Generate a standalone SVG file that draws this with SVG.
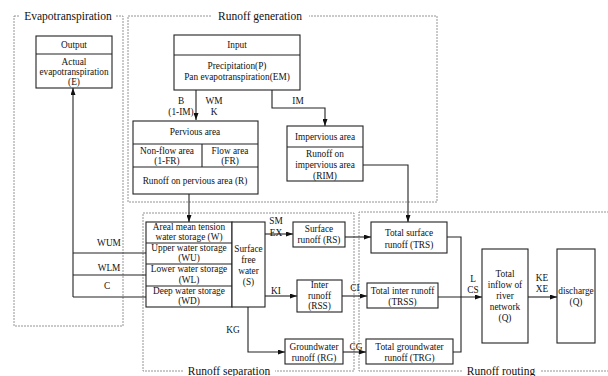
<svg xmlns="http://www.w3.org/2000/svg" width="608" height="376" viewBox="0 0 608 376">
<style>
text{font-family:"Liberation Serif","Times New Roman",serif;font-size:9.3px;fill:#111;text-anchor:middle}
.t{font-size:11.5px}
.b{fill:#fff;stroke:#222;stroke-width:1.1}
.d{fill:none;stroke:#888;stroke-width:0.9;stroke-dasharray:2,1}
.c{fill:none;stroke:#222;stroke-width:1.1}
</style>
<defs>
<marker id="a" viewBox="0 0 7 5" refX="7" refY="2.5" markerWidth="7" markerHeight="5" markerUnits="userSpaceOnUse" orient="auto">
<path d="M0,0L7,2.5L0,5z" fill="#111"/>
</marker>
</defs>
<rect width="608" height="376" fill="#fff"/>
<g id="frames">
<rect class="d" x="14" y="16" width="109" height="310"/>
<rect x="20" y="9" width="96" height="14" fill="#fff"/>
<text class="t" x="68" y="20">Evapotranspiration</text>
<rect class="d" x="128" y="16" width="309" height="186"/>
<rect x="212" y="9" width="97" height="14" fill="#fff"/>
<text class="t" x="260" y="20">Runoff generation</text>
<rect class="d" x="143" y="213" width="211" height="158"/>
<rect x="183" y="364" width="92" height="12" fill="#fff"/>
<text class="t" x="229" y="375">Runoff separation</text>
<path class="d" d="M612,212H359V371H612"/>
<rect x="462" y="364" width="78" height="12" fill="#fff"/>
<text class="t" x="501" y="375">Runoff routing</text>
</g>
<g id="connectors">
<path class="c" d="M196,90V120" marker-end="url(#a)"/>
<path class="c" d="M272,90V108H325V126" marker-end="url(#a)"/>
<path class="c" d="M189,194V222" marker-end="url(#a)"/>
<path class="c" d="M363,165H408V222" marker-end="url(#a)"/>
<path class="c" d="M73,297V88" marker-end="url(#a)"/>
<path class="c" d="M73,253H146M73,275H146M73,297H146"/>
<path class="c" d="M265,234H293" marker-end="url(#a)"/>
<path class="c" d="M265,296H297" marker-end="url(#a)"/>
<path class="c" d="M248,307V352H285" marker-end="url(#a)"/>
<path class="c" d="M345,237H371" marker-end="url(#a)"/>
<path class="c" d="M342,296H367" marker-end="url(#a)"/>
<path class="c" d="M343,352H366" marker-end="url(#a)"/>
<path class="c" d="M447,237H461V352H453"/>
<path class="c" d="M438,297H482" marker-end="url(#a)"/>
<path class="c" d="M528,297H557" marker-end="url(#a)"/>
<text x="181" y="104">B</text>
<text x="181" y="115">(1-IM)</text>
<text x="214" y="104">WM</text>
<text x="214" y="115">K</text>
<text x="298" y="104">IM</text>
<text x="109" y="246">WUM</text>
<text x="109" y="271">WLM</text>
<text x="107" y="289">C</text>
<text x="276" y="224">SM</text>
<text x="276" y="236">EX</text>
<text x="276" y="294">KI</text>
<text x="233" y="333">KG</text>
<text x="355" y="291">CI</text>
<text x="356" y="350">CG</text>
<text x="473" y="282">L</text>
<text x="473" y="293">CS</text>
<text x="542" y="281">KE</text>
<text x="542" y="292">XE</text>
</g>
<g id="output">
<rect class="b" x="36" y="36" width="76" height="52"/>
<path class="c" d="M36,54H112"/>
<text x="74" y="48">Output</text>
<text x="74" y="65">Actual</text>
<text x="74" y="75">evapotranspiration</text>
<text x="74" y="85">(E)</text>
</g>
<g id="input">
<rect class="b" x="174" y="35" width="126" height="55"/>
<path class="c" d="M174,55H300"/>
<text x="237" y="48">Input</text>
<text x="237" y="69">Precipitation(P)</text>
<text x="237" y="80">Pan evapotranspiration(EM)</text>
</g>
<g id="pervious">
<rect class="b" x="133" y="121" width="125" height="73"/>
<path class="c" d="M133,144H258M133,167H258M202,144V167"/>
<text x="195" y="135">Pervious area</text>
<text x="167" y="154">Non-flow area</text>
<text x="167" y="164">(1-FR)</text>
<text x="230" y="154">Flow area</text>
<text x="230" y="164">(FR)</text>
<text x="195" y="184">Runoff on pervious area (R)</text>
</g>
<g id="impervious">
<rect class="b" x="287" y="126" width="76" height="55"/>
<path class="c" d="M287,147H363"/>
<text x="325" y="140">Impervious area</text>
<text x="325" y="157">Runoff on</text>
<text x="325" y="168">impervious area</text>
<text x="325" y="179">(RIM)</text>
</g>
<g id="storage">
<rect class="b" x="146" y="222" width="86" height="85"/>
<path class="c" d="M146,243H232M146,264H232M146,286H232"/>
<text x="189" y="230">Areal mean tension</text>
<text x="189" y="240">water storage (W)</text>
<text x="189" y="251">Upper water storage</text>
<text x="189" y="261">(WU)</text>
<text x="189" y="272">Lower water storage</text>
<text x="189" y="283">(WL)</text>
<text x="189" y="294">Deep water storage</text>
<text x="189" y="304">(WD)</text>
</g>
<g id="free-water">
<rect class="b" x="232" y="222" width="33" height="85"/>
<text x="248.5" y="252">Surface</text>
<text x="248.5" y="263">free</text>
<text x="248.5" y="274">water</text>
<text x="248.5" y="285">(S)</text>
</g>
<g id="rs">
<rect class="b" x="293" y="222" width="52" height="25"/>
<text x="319" y="232">Surface</text>
<text x="319" y="243">runoff (RS)</text>
</g>
<g id="rss">
<rect class="b" x="297" y="280" width="45" height="32"/>
<text x="319.5" y="288">Inter</text>
<text x="319.5" y="299">runoff</text>
<text x="319.5" y="309">(RSS)</text>
</g>
<g id="rg">
<rect class="b" x="285" y="339" width="58" height="25"/>
<text x="314" y="350">Groundwater</text>
<text x="314" y="361">runoff (RG)</text>
</g>
<g id="trs">
<rect class="b" x="371" y="222" width="76" height="31"/>
<text x="409" y="236">Total surface</text>
<text x="409" y="248">runoff (TRS)</text>
</g>
<g id="trss">
<rect class="b" x="367" y="283" width="71" height="25"/>
<text x="402.5" y="294">Total inter runoff</text>
<text x="402.5" y="305">(TRSS)</text>
</g>
<g id="trg">
<rect class="b" x="366" y="339" width="87" height="25"/>
<text x="409.5" y="350">Total groundwater</text>
<text x="409.5" y="361">runoff (TRG)</text>
</g>
<g id="total-inflow">
<rect class="b" x="482" y="249" width="46" height="94"/>
<text x="505" y="277">Total</text>
<text x="505" y="288">inflow of</text>
<text x="505" y="299">river</text>
<text x="505" y="310">network</text>
<text x="505" y="321">(Q)</text>
</g>
<g id="discharge">
<rect class="b" x="557" y="249" width="38" height="94"/>
<text x="576" y="294">discharge</text>
<text x="576" y="305">(Q)</text>
</g>
</svg>
